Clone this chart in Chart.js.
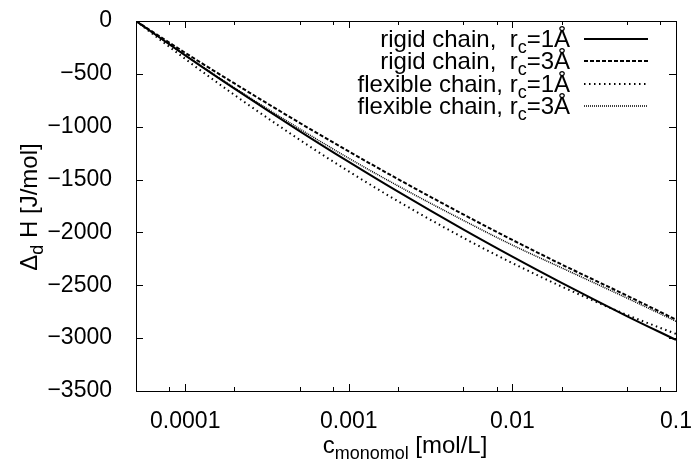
<!DOCTYPE html>
<html>
<head>
<meta charset="utf-8">
<script src="https://cdn.jsdelivr.net/npm/chart.js@4/dist/chart.umd.min.js"></script>
<style>
  html, body { margin: 0; padding: 0; background: #fff; }
  #wrap { width: 691px; height: 463px; }
</style>
</head>
<body>
<div id="wrap"><canvas id="chart" width="691" height="463"></canvas></div>
<script>
// concentrations (mol/L)
var conc = [5e-5, 1e-4, 2e-4, 5e-4, 1e-3, 2e-3, 5e-3, 1e-2, 2e-2, 5e-2, 1e-1];
// dissociation enthalpy (J/mol)
var rigid1 = [0, -325, -640, -1041, -1333, -1615, -1972, -2230, -2478, -2791, -3017];
var rigid3 = [0, -301, -591, -963, -1234, -1496, -1829, -2071, -2303, -2597, -2825];
var flex1  = [0, -359, -700, -1123, -1423, -1705, -2050, -2290, -2512, -2779, -2960];
var flex3  = [0, -323, -632, -1020, -1298, -1560, -1885, -2120, -2335, -2620, -2840];

var xMajor = [1e-4, 1e-3, 1e-2, 1e-1];
var xMajorLabels = ["0.0001", "0.001", "0.01", "0.1"];
var xMinor = [8e-5, 2e-4, 5e-4, 8e-4, 2e-3, 5e-3, 8e-3, 2e-2, 5e-2, 8e-2];

var legendText = [
  ["rigid chain,  r", "c", "=1\u00C5"],
  ["rigid chain,  r", "c", "=3\u00C5"],
  ["flexible chain, r", "c", "=1\u00C5"],
  ["flexible chain, r", "c", "=3\u00C5"]
];

var FONT = "'Liberation Sans', Arial, Helvetica, sans-serif";

function pts(ys) {
  return conc.map(function (c, i) { return {x: c, y: ys[i]}; });
}

var styles = [
  {width: 2, dash: []},
  {width: 2, dash: [4, 2]},
  {width: 2, dash: [1.5, 3.5]},
  {width: 1.5, dash: [1, 1]}
];

var series = [rigid1, rigid3, flex1, flex3];

var datasets = series.map(function (s, i) {
  return {
    label: legendText[i].join(""),
    data: pts(s),
    borderColor: "#000",
    borderWidth: styles[i].width,
    borderDash: styles[i].dash,
    pointRadius: 0,
    fill: false,
    cubicInterpolationMode: "monotone"
  };
});

function drawSub(ctx, parts, x, y, align, bigPx, smallPx, drop) {
  // parts: [main, sub, main2]
  var big = bigPx + "px " + FONT, small = smallPx + "px " + FONT;
  ctx.font = big;
  var w1 = ctx.measureText(parts[0]).width;
  var w3 = ctx.measureText(parts[2]).width;
  ctx.font = small;
  var w2 = ctx.measureText(parts[1]).width;
  var total = w1 + w2 + w3;
  var sx = align === "right" ? x - total : (align === "center" ? x - total / 2 : x);
  ctx.textBaseline = "middle";
  ctx.textAlign = "left";
  ctx.font = big;
  ctx.fillText(parts[0], sx, y);
  ctx.font = small;
  ctx.fillText(parts[1], sx + w1, y + drop);
  ctx.font = big;
  ctx.fillText(parts[2], sx + w1 + w2, y);
}

var decor = {
  id: "decor",
  afterDraw: function (chart) {
    var ctx = chart.ctx, a = chart.chartArea;
    var xs = chart.scales.x, ys = chart.scales.y;
    ctx.save();
    ctx.strokeStyle = "#000";
    ctx.fillStyle = "#000";
    ctx.lineWidth = 1;
    ctx.setLineDash([]);
    ctx.beginPath();
    // inward ticks on all four sides
    for (var v = -3500; v <= 0; v += 500) {
      var py = Math.round(ys.getPixelForValue(v)) + 0.5;
      ctx.moveTo(a.left, py); ctx.lineTo(a.left + 7, py);
      ctx.moveTo(a.right, py); ctx.lineTo(a.right - 7, py);
    }
    xMajor.forEach(function (c) {
      var px = Math.round(xs.getPixelForValue(c)) + 0.5;
      ctx.moveTo(px, a.bottom); ctx.lineTo(px, a.bottom - 7);
      ctx.moveTo(px, a.top); ctx.lineTo(px, a.top + 7);
    });
    xMinor.forEach(function (c) {
      var px = Math.round(xs.getPixelForValue(c)) + 0.5;
      ctx.moveTo(px, a.bottom); ctx.lineTo(px, a.bottom - 4);
      ctx.moveTo(px, a.top); ctx.lineTo(px, a.top + 4);
    });
    ctx.stroke();
    ctx.strokeRect(Math.round(a.left) + 0.5, Math.round(a.top) + 0.5,
      Math.round(a.right - a.left), Math.round(a.bottom - a.top));

    // legend
    var rowY = [40, 62, 85, 107];
    legendText.forEach(function (parts, i) {
      ctx.fillStyle = "#000";
      drawSub(ctx, parts, 570, rowY[i], "right", 24, 18, 8);
      ctx.beginPath();
      ctx.lineWidth = styles[i].width;
      ctx.setLineDash(styles[i].dash);
      ctx.moveTo(584, rowY[i] - 1);
      ctx.lineTo(648, rowY[i] - 1);
      ctx.stroke();
    });
    ctx.setLineDash([]);

    // axis titles
    drawSub(ctx, ["c", "monomol", " [mol/L]"], 405, 446, "center", 24, 18, 8);
    ctx.translate(30, 207);
    ctx.rotate(-Math.PI / 2);
    drawSub(ctx, ["\u0394", "d", " H [J/mol]"], 0, 0, "center", 24, 18, 8);
    ctx.restore();
  }
};

new Chart(document.getElementById("chart"), {
  type: "line",
  data: {datasets: datasets},
  plugins: [decor],
  options: {
    responsive: false,
    animation: false,
    layout: {padding: {top: 21, right: 15, left: 0, bottom: 0}},
    plugins: {legend: {display: false}, tooltip: {enabled: false}},
    scales: {
      x: {
        type: "logarithmic",
        min: 5e-5,
        max: 0.1,
        grid: {display: false},
        border: {display: false},
        afterBuildTicks: function (scale) {
          scale.ticks = xMajor.map(function (v) { return {value: v}; });
        },
        afterFit: function (scale) {
          scale.height = 72;
          scale.paddingLeft = 0;
          scale.paddingRight = 0;
        },
        ticks: {
          autoSkip: false,
          maxRotation: 0,
          padding: 9,
          color: "#000",
          font: {family: FONT, size: 23},
          callback: function (v) {
            var i = xMajor.indexOf(v);
            return i >= 0 ? xMajorLabels[i] : "";
          }
        }
      },
      y: {
        min: -3500,
        max: 0,
        grid: {display: false},
        border: {display: false},
        afterFit: function (scale) {
          scale.width = 136;
          scale.paddingTop = 0;
          scale.paddingBottom = 0;
        },
        ticks: {
          stepSize: 500,
          padding: 16,
          color: "#000",
          font: {family: FONT, size: 23},
          callback: function (v) { return v < 0 ? "\u2212" + Math.abs(v) : String(v); }
        }
      }
    }
  }
});
</script>
</body>
</html>
